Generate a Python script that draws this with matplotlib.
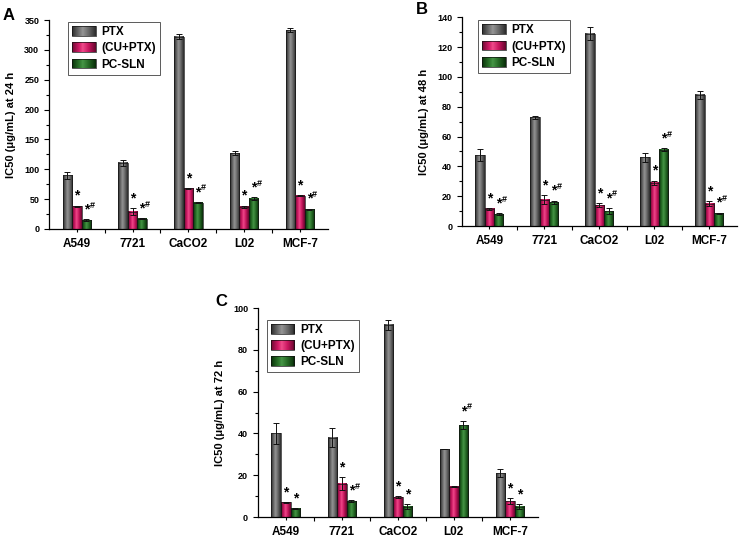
import numpy as np
import matplotlib
matplotlib.use("Agg")
import matplotlib.pyplot as plt
from matplotlib.colors import LinearSegmentedColormap
from matplotlib.legend_handler import HandlerBase
from matplotlib.patches import Rectangle
from matplotlib.ticker import AutoMinorLocator, FixedLocator, MultipleLocator

plt.rcParams['font.family'] = ['Liberation Sans', 'DejaVu Sans']
plt.rcParams['font.weight'] = 'bold'

cells = ["A549", "7721", "CaCO2", "L02", "MCF-7"]
series = ["PTX", "(CU+PTX)", "PC-SLN"]

# 24 h
ptx_24 = [90, 111, 322, 127, 333]
ptx_24_err = [6, 5, 4, 3, 3]
cu_24 = [38, 29, 68, 37, 56]
cu_24_err = [1, 6, 1, 2, 1]
sln_24 = [15, 17, 44, 51, 33]
sln_24_err = [1, 1, 1, 2, 1]
cu_24_marks = ["*", "*", "*", "*", "*"]
sln_24_marks = ["*#", "*#", "*#", "*#", "*#"]

# 48 h
ptx_48 = [47.5, 73, 129, 46, 88]
ptx_48_err = [4, 1, 4.5, 3, 2.5]
cu_48 = [11.5, 17.5, 14, 29, 15]
cu_48_err = [0.5, 3, 1.5, 1.5, 1.5]
sln_48 = [8, 16, 10, 51, 8.5]
sln_48_err = [0.5, 1, 2, 1, 0.5]
cu_48_marks = ["*", "*", "*", "*", "*"]
sln_48_marks = ["*#", "*#", "*#", "*#", "*#"]

# 72 h
ptx_72 = [40, 38, 92, 32.5, 21]
ptx_72_err = [5, 4.5, 2.5, 0, 2]
cu_72 = [7, 16, 9.5, 14.5, 7.5]
cu_72_err = [0.3, 3, 0.5, 0.3, 1.5]
sln_72 = [4, 7.5, 5, 44, 5]
sln_72_err = [0.3, 0.5, 1.2, 2, 1]
cu_72_marks = ["*", "*", "*", "", "*"]
sln_72_marks = ["*", "*#", "*", "*#", "*"]

cmaps = [
    LinearSegmentedColormap.from_list("g", [(0, '#2a2a2a'), (0.3, '#707070'), (0.45, '#949494'), (0.7, '#686868'), (1, '#2a2a2a')]),
    LinearSegmentedColormap.from_list("p", [(0, '#6a0830'), (0.3, '#d21a66'), (0.45, '#ee4a8a'), (0.7, '#c8155e'), (1, '#62062c')]),
    LinearSegmentedColormap.from_list("gr", [(0, '#082e08'), (0.3, '#2a742a'), (0.45, '#459445'), (0.7, '#246824'), (1, '#082a08')]),
]


class GradHandler(HandlerBase):
    def __init__(self, cmap):
        super().__init__()
        self.cmap = cmap

    def create_artists(self, legend, orig_handle, xdescent, ydescent, width, height, fontsize, trans):
        n = 24
        arts = []
        for i in range(n):
            r = Rectangle((-xdescent + width * i / n, -ydescent), width / n + 0.3, height,
                          facecolor=self.cmap((i + 0.5) / n), edgecolor='none', transform=trans)
            arts.append(r)
        arts.append(Rectangle((-xdescent, -ydescent), width, height, facecolor='none',
                              edgecolor='#111111', linewidth=0.5, transform=trans))
        return arts


def panel(ax, vals, errs, marks, ylim, major, ylabel, leg_xy):
    x = np.arange(1, len(cells) + 1)
    w = 0.17
    grad = np.linspace(0, 1, 64).reshape(1, -1)
    handles = []
    for k in range(3):
        bars = ax.bar(x + (k - 1) * w, vals[k], w, facecolor='none', edgecolor='#151515',
                      linewidth=0.5, zorder=3, label=series[k])
        handles.append(bars)
        for p in bars.patches:
            x0 = p.get_x()
            ax.imshow(grad, cmap=cmaps[k], extent=(x0, x0 + p.get_width(), 0, p.get_height()),
                      aspect='auto', zorder=2, interpolation='bilinear')
        ax.errorbar(x + (k - 1) * w, vals[k], yerr=errs[k], fmt='none', ecolor='#111111',
                    elinewidth=0.7, capsize=2, capthick=0.7, zorder=4)
    for k, mk in ((1, marks[0]), (2, marks[1])):
        for i in range(len(cells)):
            m = mk[i]
            if not m:
                continue
            top = vals[k][i] + errs[k][i]
            xx = x[i] + (k - 1) * w
            ax.annotate('*', xy=(xx, top), xytext=(0, 2), textcoords='offset points',
                        ha='center', va='bottom', fontsize=10, fontweight='bold', zorder=5)
            if '#' in m:
                ax.annotate('#', xy=(xx, top), xytext=(2.2, 7), textcoords='offset points',
                            ha='left', va='bottom', fontsize=6.5, fontweight='bold', zorder=5)
    ax.set_xlim(0.5, len(cells) + 0.5)
    ax.set_ylim(*ylim)
    ax.set_xticks(x)
    ax.set_xticklabels(cells, fontsize=8.5, fontweight='bold')
    ax.xaxis.set_minor_locator(FixedLocator(np.arange(1.5, len(cells), 1.0)))
    ax.tick_params(axis='x', which='major', length=2.5, width=0.8, direction='out', pad=4)
    ax.tick_params(axis='x', which='minor', length=3, width=0.8, direction='out')
    ax.yaxis.set_major_locator(MultipleLocator(major))
    ax.yaxis.set_minor_locator(AutoMinorLocator(2))
    ax.tick_params(axis='y', which='major', length=3.5, width=0.8, labelsize=6.5, direction='out')
    ax.tick_params(axis='y', which='minor', length=2, width=0.8, direction='out')
    for lab in ax.get_yticklabels():
        lab.set_fontweight('bold')
    ax.spines['top'].set_visible(False)
    ax.spines['right'].set_visible(False)
    ax.spines['left'].set_linewidth(0.9)
    ax.spines['bottom'].set_linewidth(0.9)
    ax.set_ylabel(ylabel, fontsize=8, fontweight='bold', labelpad=6)
    leg = ax.legend(handles=handles, labels=series, loc='upper left', bbox_to_anchor=leg_xy,
                    handler_map={h: GradHandler(cmaps[i]) for i, h in enumerate(handles)},
                    fontsize=8.5, frameon=True, fancybox=False, edgecolor='#111111',
                    handlelength=2.0, handleheight=0.9, handletextpad=0.5, labelspacing=0.35,
                    borderpad=0.35, borderaxespad=0)
    leg.get_frame().set_linewidth(0.6)
    for t in leg.get_texts():
        t.set_fontweight('bold')


W, H = 745, 537
fig = plt.figure(figsize=(7.45, 5.37), dpi=100)
axA = fig.add_axes([0.0658, 0.5736, 0.374, 0.389])
axB = fig.add_axes([0.620, 0.579, 0.369, 0.389])
axC = fig.add_axes([0.346, 0.0372, 0.376, 0.389])

panel(axA, [ptx_24, cu_24, sln_24], [ptx_24_err, cu_24_err, sln_24_err],
      [cu_24_marks, sln_24_marks], (0, 350), 50, "IC50 (μg/mL) at 24 h", (0.068, 0.99))
panel(axB, [ptx_48, cu_48, sln_48], [ptx_48_err, cu_48_err, sln_48_err],
      [cu_48_marks, sln_48_marks], (0, 140), 20, "IC50 (μg/mL) at 48 h", (0.058, 0.985))
panel(axC, [ptx_72, cu_72, sln_72], [ptx_72_err, cu_72_err, sln_72_err],
      [cu_72_marks, sln_72_marks], (0, 100), 20, "IC50 (μg/mL) at 72 h", (0.032, 0.945))

for letter, (px, py) in (("A", (9, 15)), ("B", (422, 10)), ("C", (221, 301))):
    fig.text(px / W, 1 - py / H, letter, fontsize=12, fontweight='bold', ha='center', va='center')

fig.savefig("out.png", dpi=100)
